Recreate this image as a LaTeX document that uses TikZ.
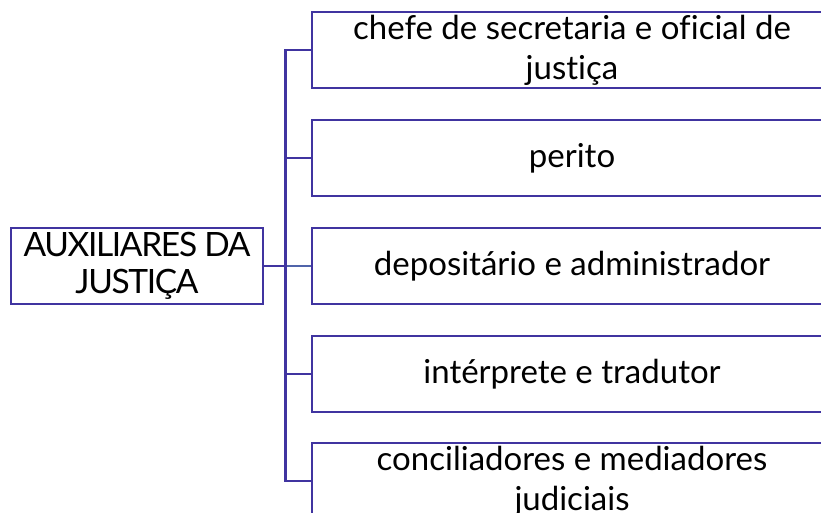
\documentclass[tikz,border=0pt]{standalone}
\usepackage{fontspec}
\setmainfont[Ligatures=NoCommon]{Lato}
\definecolor{edge}{RGB}{64,52,160}
\definecolor{midline}{RGB}{80,100,170}
\begin{document}
\begin{tikzpicture}[x=1pt,y=-1pt,
  box/.style={draw=edge,line width=2.6pt,rectangle,align=center,inner sep=0pt,
    minimum height=76pt,text=black},
  child/.style={box,minimum width=520pt,font=\fontsize{33}{40}\selectfont},
  rootbox/.style={box,minimum width=252pt,font=\fontsize{33.5}{37}\selectfont\addfontfeatures{LetterSpace=-4}},
  conn/.style={draw=edge,line width=2.6pt}]
\useasboundingbox (0,0) rectangle (821,513);
\clip (0,0) rectangle (821,513);
\node[rootbox] (root) at (137,266) {AUXILIARES DA\\JUSTIÇA};
\node[child] (c1) at (572,50) {chefe de secretaria e oficial de\\justiça};
\node[child] (c2) at (572,158) {perito};
\node[child] (c3) at (572,266) {depositário e administrador};
\node[child] (c4) at (572,374) {intérprete e tradutor};
\node[child] (c5) at (572,481) {conciliadores e mediadores\\judiciais};
\coordinate (tr) at (287,266);
\path[conn] (root.east) -- (tr);
\path[conn] (c1.west) -- ++(-25,0) |- (c5.west);
\path[conn] (c2.west) -- ++(-25,0);
\path[conn] (c4.west) -- ++(-25,0);
\draw[midline,line width=1.8pt] (tr) -- (c3.west);
\end{tikzpicture}
\end{document}
